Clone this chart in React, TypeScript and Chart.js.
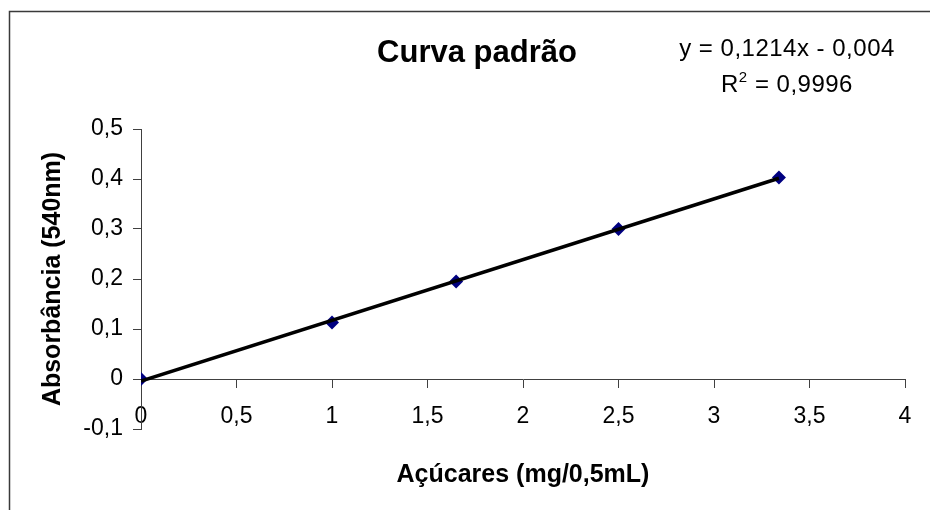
import React, { useEffect, useRef } from "react";
import { Chart, registerables } from "chart.js";

Chart.register(...registerables);

// ---- data ----
const concentrations = [0, 1, 1.65, 2.5, 3.34];
const absorbances = [0, 0.113, 0.195, 0.3, 0.403];

const trendX = [0, 3.34];
const trendY = [-0.004, 0.4015];

const xTickValues = [0, 0.5, 1, 1.5, 2, 2.5, 3, 3.5, 4];
const xTickLabels = ["0", "0,5", "1", "1,5", "2", "2,5", "3", "3,5", "4"];
const yTickValues = [-0.1, 0, 0.1, 0.2, 0.3, 0.4, 0.5];
const yTickLabels = ["-0,1", "0", "0,1", "0,2", "0,3", "0,4", "0,5"];

const chartTitle = "Curva padrão";
const xTitle = "Açúcares (mg/0,5mL)";
const yTitle = "Absorbância (540nm)";
const equationText = "y = 0,1214x - 0,004";
const rSquaredValue = "0,9996";

const FONT = '"Liberation Sans", Arial, Helvetica, sans-serif';
const AXIS_COLOR = "#404040";

const decorPlugin = {
  id: "decor",
  beforeDraw(chart: any) {
    const ctx = chart.ctx;
    ctx.save();
    ctx.fillStyle = "#ffffff";
    ctx.fillRect(0, 0, chart.width, chart.height);
    ctx.strokeStyle = "#3a3a3a";
    ctx.lineWidth = 1.5;
    ctx.strokeRect(9.5, 11.5, 1000, 1000);
    ctx.restore();
  },
  afterDraw(chart: any) {
    const ctx = chart.ctx;
    ctx.save();
    ctx.fillStyle = "#000000";
    ctx.textBaseline = "alphabetic";
    // title
    ctx.font = `bold 31px ${FONT}`;
    ctx.textAlign = "center";
    ctx.fillText(chartTitle, 477, 62);
    // equation
    (ctx as any).letterSpacing = "0.5px";
    ctx.font = `24px ${FONT}`;
    ctx.fillText(equationText, 787, 56);
    // R^2 line
    const big = `24px ${FONT}`;
    const small = `15px ${FONT}`;
    ctx.font = big;
    const wR = ctx.measureText("R").width;
    const rest = " = " + rSquaredValue;
    const wRest = ctx.measureText(rest).width;
    ctx.font = small;
    const w2 = ctx.measureText("2").width;
    const total = wR + w2 + wRest;
    let x = 787 - total / 2;
    ctx.textAlign = "left";
    ctx.font = big;
    ctx.fillText("R", x, 92);
    x += wR;
    ctx.font = small;
    ctx.fillText("2", x, 82);
    x += w2;
    ctx.font = big;
    ctx.fillText(rest, x, 92);
    ctx.restore();
  },
};

export default function App() {
  const canvasRef = useRef<HTMLCanvasElement | null>(null);

  useEffect(() => {
    if (!canvasRef.current) return;
    const points = concentrations.map((c, i) => ({ x: c, y: absorbances[i] }));
    const trend = trendX.map((t, i) => ({ x: t, y: trendY[i] }));

    const chart = new Chart(canvasRef.current, {
      type: "scatter",
      data: {
        datasets: [
          {
            label: "Linear",
            data: trend,
            showLine: true,
            borderColor: "#000000",
            borderWidth: 3.5,
            pointRadius: 0,
            pointHoverRadius: 0,
            fill: false,
          },
          {
            label: "Absorbância",
            data: points,
            pointStyle: "rectRot",
            pointRadius: 7,
            pointBackgroundColor: "#000080",
            pointBorderColor: "#000080",
            pointBorderWidth: 0,
            showLine: false,
          },
        ],
      },
      options: {
        responsive: false,
        animation: false,
        devicePixelRatio: 1,
        layout: { padding: { top: 129, right: 25, left: 0, bottom: 81 } },
        plugins: {
          legend: { display: false },
          tooltip: { enabled: false },
          title: { display: false },
        },
        scales: {
          x: {
            type: "linear",
            position: { y: 0 } as any,
            min: 0,
            max: 4,
            afterBuildTicks: (scale: any) => {
              scale.ticks = xTickValues.map((v) => ({ value: v }));
            },
            afterFit: (scale: any) => {
              scale.height = 81;
            },
            ticks: {
              callback: (_v: any, i: number) => xTickLabels[i],
              color: "#000000",
              font: { family: FONT, size: 23 },
              padding: 16,
              maxRotation: 0,
              autoSkip: false,
            },
            grid: {
              display: true,
              drawOnChartArea: false,
              drawTicks: true,
              tickLength: 8,
              color: AXIS_COLOR,
              lineWidth: 1,
            },
            border: { display: true, color: AXIS_COLOR, width: 1 },
            title: {
              display: true,
              text: xTitle,
              color: "#000000",
              font: { family: FONT, size: 25, weight: "bold" },
              padding: { top: 0, bottom: -30 },
            },
          },
          y: {
            type: "linear",
            position: "left",
            min: -0.1,
            max: 0.5,
            afterBuildTicks: (scale: any) => {
              scale.ticks = yTickValues.map((v) => ({ value: v }));
            },
            afterFit: (scale: any) => {
              scale.width = 141;
            },
            ticks: {
              callback: (_v: any, i: number) => yTickLabels[i],
              color: "#000000",
              font: { family: FONT, size: 23 },
              padding: 10,
              autoSkip: false,
            },
            grid: {
              display: true,
              drawOnChartArea: false,
              drawTicks: true,
              tickLength: 8,
              color: AXIS_COLOR,
              lineWidth: 1,
            },
            border: { display: true, color: AXIS_COLOR, width: 1 },
            title: {
              display: true,
              text: yTitle,
              color: "#000000",
              font: { family: FONT, size: 25, weight: "bold" },
              padding: { top: 38, bottom: 0 },
            },
          },
        },
      },
      plugins: [decorPlugin],
    });
    return () => chart.destroy();
  }, []);

  return (
    <div style={{ position: "absolute", left: 0, top: 0, width: 930, height: 510 }}>
      <canvas ref={canvasRef} width={930} height={510} style={{ display: "block" }} />
    </div>
  );
}
